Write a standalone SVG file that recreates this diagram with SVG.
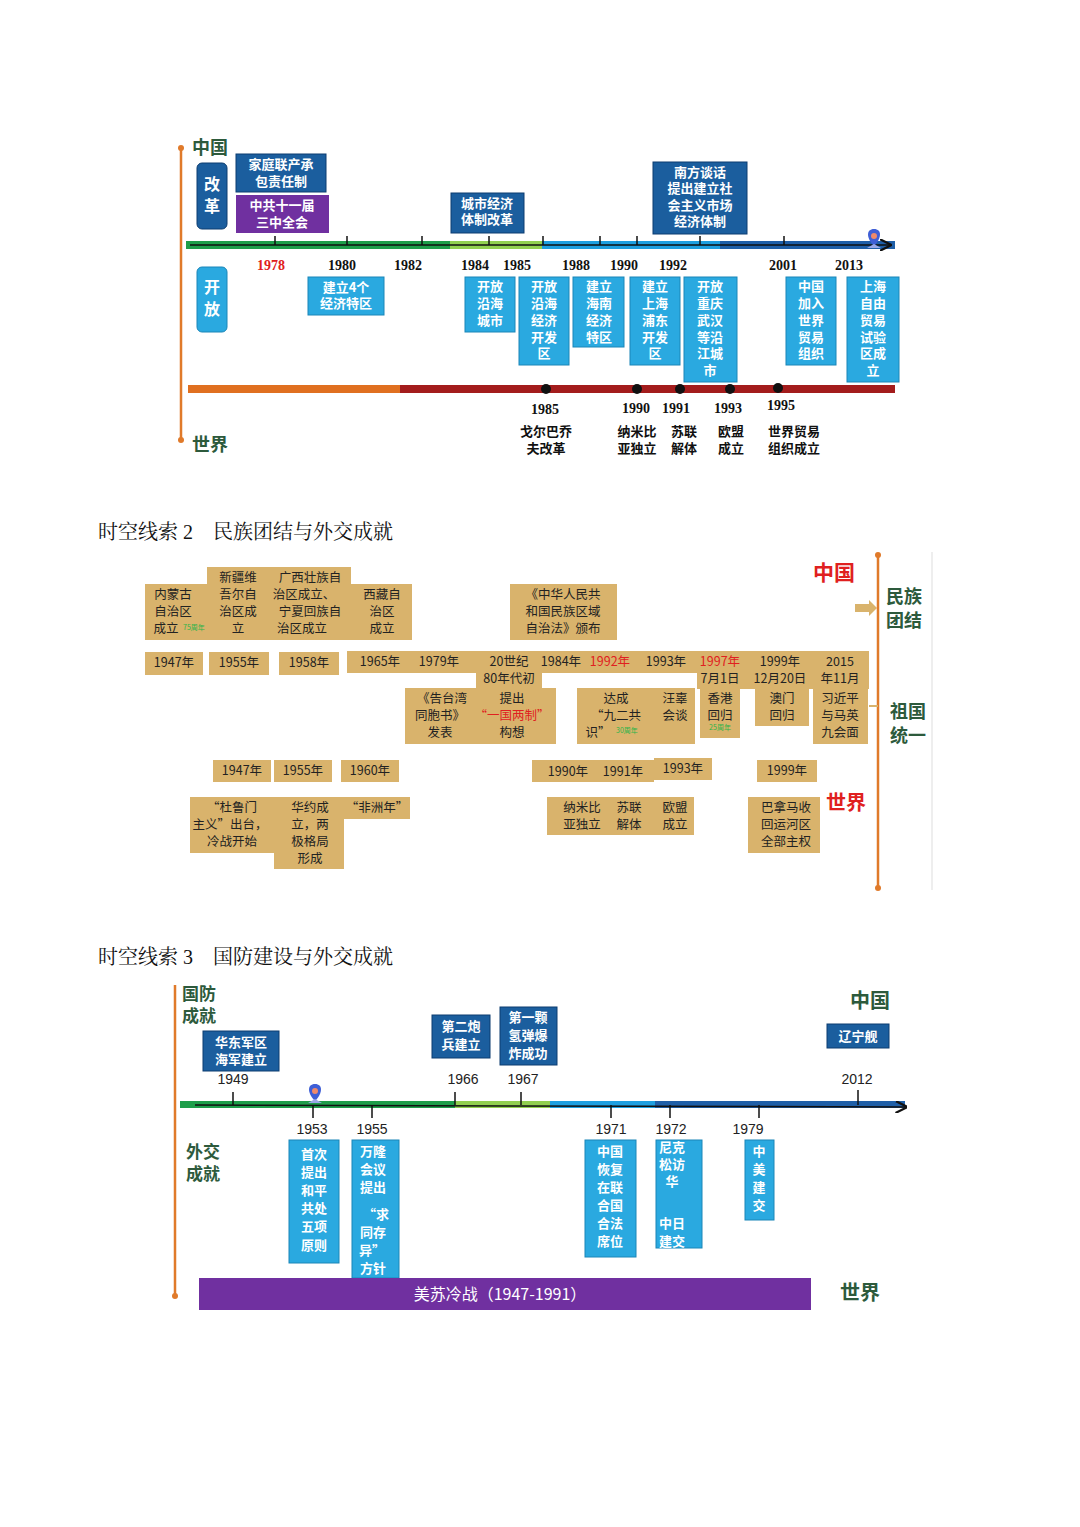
<svg xmlns="http://www.w3.org/2000/svg" width="1080" height="1527" viewBox="0 0 1080 1527">
<style>
text{font-family:"Noto Sans CJK SC","Liberation Sans",sans-serif}
.db{fill:#1b5e9e;stroke:#0d3d70;stroke-width:1}
.lb{fill:#2aa9e0;stroke:#1a86b8;stroke-width:1}
.pu{fill:#7030a0}
.tan{fill:#d9b36c}
.wt{fill:#fff;font-size:13px;font-weight:bold;text-anchor:middle}
.gr{fill:#2d5a3c;font-size:18px;font-weight:bold}
.yr{font-family:"Liberation Serif",serif;font-size:14px;font-weight:bold;text-anchor:middle;fill:#111}
.ev{font-size:13px;font-weight:bold;text-anchor:middle;fill:#111}
.tt{font-size:12.5px;text-anchor:middle;fill:#222}
.y3{font-family:"Liberation Sans",sans-serif;font-size:14px;text-anchor:middle;fill:#222}
.ttl{font-family:"Liberation Serif","Noto Serif CJK SC","Noto Sans CJK SC",serif;font-size:20px;fill:#111}
.tk{stroke:#111;stroke-width:1.5}
.or{stroke:#e07a2a;stroke-width:2.5}
</style>
<defs>
<marker id="ar" markerWidth="8" markerHeight="8" refX="7" refY="4" orient="auto"><path d="M0,0 L8,4 L0,8" fill="none" stroke="#111" stroke-width="1.5"/></marker>
<g id="pin"><path d="M0,8 C-8,0 -8,-9 0,-9 C8,-9 8,0 0,8 Z" fill="#3f5fd6"/><circle cx="0" cy="-2" r="3" fill="#f08a6a"/><path d="M-7,10 L0,6 L7,10 Z" fill="#9aa8e8"/></g>
</defs>

<!-- Section 1 -->
<g id="s1-axes">
<line class="or" x1="181" y1="148" x2="181" y2="440"/>
<circle cx="181" cy="148" r="3" fill="#e07a2a"/><circle cx="181" cy="440" r="3" fill="#e07a2a"/>
<text class="gr" x="192" y="154">中国</text>
<text class="gr" x="192" y="451">世界</text>
</g>
<g id="connectors">
<rect x="186" y="241" width="264" height="8" fill="#1e9e4a"/>
<rect x="450" y="241" width="92" height="8" fill="#92d050"/>
<rect x="542" y="241" width="178" height="8" fill="#1e9fe0"/>
<rect x="720" y="241" width="175" height="8" fill="#1f5fa8"/>
<line x1="190" y1="245" x2="890" y2="245" stroke="#111" stroke-width="1.5" marker-end="url(#ar)"/>
<g class="tk">
<line x1="275" y1="236" x2="275" y2="245"/><line x1="347" y1="236" x2="347" y2="245"/><line x1="422" y1="236" x2="422" y2="245"/><line x1="489" y1="236" x2="489" y2="245"/><line x1="543" y1="236" x2="543" y2="245"/><line x1="600" y1="236" x2="600" y2="245"/><line x1="637" y1="236" x2="637" y2="245"/><line x1="700" y1="236" x2="700" y2="245"/><line x1="784" y1="236" x2="784" y2="245"/>
</g>
<rect x="188" y="385" width="212" height="8" fill="#e07020"/>
<rect x="400" y="385" width="495" height="8" fill="#a31c1c"/>
<g fill="#111"><circle cx="546" cy="389" r="5"/><circle cx="637" cy="389" r="5"/><circle cx="680" cy="389" r="5"/><circle cx="730" cy="389" r="5"/><circle cx="778" cy="388" r="5"/></g>
<!-- S3 timeline -->
<rect x="180" y="1101" width="275" height="7" fill="#1e9e4a"/>
<rect x="455" y="1101" width="95" height="7" fill="#92d050"/>
<rect x="550" y="1101" width="105" height="7" fill="#1e9fe0"/>
<rect x="655" y="1101" width="250" height="7" fill="#1f5fa8"/>
<line x1="195" y1="1105" x2="906" y2="1107" stroke="#111" stroke-width="1.5" marker-end="url(#ar)"/>
<g class="tk">
<line x1="233" y1="1092" x2="233" y2="1105"/><line x1="455" y1="1092" x2="455" y2="1105"/><line x1="521" y1="1092" x2="521" y2="1105"/><line x1="858" y1="1090" x2="858" y2="1105"/>
<line x1="313" y1="1105" x2="313" y2="1118"/><line x1="372" y1="1105" x2="372" y2="1118"/><line x1="611" y1="1105" x2="611" y2="1118"/><line x1="670" y1="1105" x2="670" y2="1118"/><line x1="759" y1="1105" x2="759" y2="1118"/>
</g>
<!-- S2 arrows -->
<path d="M855,604 h14 v-4 l8,8 l-8,8 v-4 h-14 z" fill="#d9b36c"/>
</g>
<use href="#pin" x="874" y="238"/>
<g id="s1-years">
<text class="yr" x="271" y="270" style="fill:#e02020">1978</text>
<text class="yr" x="342" y="270">1980</text><text class="yr" x="408" y="270">1982</text><text class="yr" x="475" y="270">1984</text><text class="yr" x="517" y="270">1985</text><text class="yr" x="576" y="270">1988</text><text class="yr" x="624" y="270">1990</text><text class="yr" x="673" y="270">1992</text><text class="yr" x="783" y="270">2001</text><text class="yr" x="849" y="270">2013</text>
<text class="yr" x="545" y="414">1985</text><text class="yr" x="636" y="413">1990</text><text class="yr" x="676" y="413">1991</text><text class="yr" x="728" y="413">1993</text><text class="yr" x="781" y="410">1995</text>
</g>
<g id="s1-reform">
<rect class="db" x="197" y="163" width="30" height="66" rx="5"/><text class="wt" x="212" y="190" style="font-size:16px">改</text><text class="wt" x="212" y="212" style="font-size:16px">革</text>
<rect class="db" x="236" y="154" width="90" height="38"/><text class="wt" x="281" y="169">家庭联产承</text><text class="wt" x="281" y="186">包责任制</text>
<rect class="pu" x="236" y="195" width="93" height="38"/><text class="wt" x="282" y="210">中共十一届</text><text class="wt" x="282" y="227">三中全会</text>
<rect class="db" x="451" y="193" width="73" height="40"/><text class="wt" x="487" y="208">城市经济</text><text class="wt" x="487" y="224">体制改革</text>
<rect class="db" x="653" y="162" width="94" height="72"/><text class="wt" x="700" y="177">南方谈话</text><text class="wt" x="700" y="193">提出建立社</text><text class="wt" x="700" y="210">会主义市场</text><text class="wt" x="700" y="226">经济体制</text>
</g>
<g id="s1-open">
<rect class="lb" x="197" y="267" width="30" height="65" rx="5"/><text class="wt" x="212" y="293" style="font-size:16px">开</text><text class="wt" x="212" y="315" style="font-size:16px">放</text>
<rect class="lb" x="308" y="277" width="76" height="38"/><text class="wt" x="346" y="292">建立4个</text><text class="wt" x="346" y="308">经济特区</text>
<rect class="lb" x="465" y="277" width="50" height="55"/><text class="wt" x="490" y="291">开放</text><text class="wt" x="490" y="308">沿海</text><text class="wt" x="490" y="325">城市</text>
<rect class="lb" x="519" y="277" width="50" height="88"/><text class="wt" x="544" y="291">开放</text><text class="wt" x="544" y="308">沿海</text><text class="wt" x="544" y="325">经济</text><text class="wt" x="544" y="342">开发</text><text class="wt" x="544" y="358">区</text>
<rect class="lb" x="573" y="277" width="51" height="70"/><text class="wt" x="599" y="291">建立</text><text class="wt" x="599" y="308">海南</text><text class="wt" x="599" y="325">经济</text><text class="wt" x="599" y="342">特区</text>
<rect class="lb" x="630" y="277" width="50" height="88"/><text class="wt" x="655" y="291">建立</text><text class="wt" x="655" y="308">上海</text><text class="wt" x="655" y="325">浦东</text><text class="wt" x="655" y="342">开发</text><text class="wt" x="655" y="358">区</text>
<rect class="lb" x="684" y="277" width="53" height="105"/><text class="wt" x="710" y="291">开放</text><text class="wt" x="710" y="308">重庆</text><text class="wt" x="710" y="325">武汉</text><text class="wt" x="710" y="342">等沿</text><text class="wt" x="710" y="358">江城</text><text class="wt" x="710" y="375">市</text>
<rect class="lb" x="786" y="277" width="50" height="88"/><text class="wt" x="811" y="291">中国</text><text class="wt" x="811" y="308">加入</text><text class="wt" x="811" y="325">世界</text><text class="wt" x="811" y="342">贸易</text><text class="wt" x="811" y="358">组织</text>
<rect class="lb" x="847" y="277" width="52" height="105"/><text class="wt" x="873" y="291">上海</text><text class="wt" x="873" y="308">自由</text><text class="wt" x="873" y="325">贸易</text><text class="wt" x="873" y="342">试验</text><text class="wt" x="873" y="358">区成</text><text class="wt" x="873" y="375">立</text>
</g>
<g id="s1-world">
<text class="ev" x="546" y="436">戈尔巴乔</text><text class="ev" x="546" y="453">夫改革</text>
<text class="ev" x="637" y="436">纳米比</text><text class="ev" x="637" y="453">亚独立</text>
<text class="ev" x="684" y="436">苏联</text><text class="ev" x="684" y="453">解体</text>
<text class="ev" x="731" y="436">欧盟</text><text class="ev" x="731" y="453">成立</text>
<text class="ev" x="794" y="436">世界贸易</text><text class="ev" x="794" y="453">组织成立</text>
</g>

<!-- Section 2 -->
<text class="ttl" x="98" y="539">时空线索 2　民族团结与外交成就</text>
<g id="s2-axes">
<line class="or" x1="878" y1="555" x2="878" y2="888"/>
<circle cx="878" cy="555" r="3" fill="#e07a2a"/><circle cx="878" cy="888" r="3" fill="#e07a2a"/>
<line x1="932" y1="552" x2="932" y2="890" stroke="#ddd" stroke-width="1"/>
<text x="813" y="580" style="fill:#e02020;font-size:21px;font-weight:bold">中国</text>
<text class="gr" x="886" y="603">民族</text><text class="gr" x="886" y="627">团结</text>
<text class="gr" x="890" y="718">祖国</text><text class="gr" x="890" y="742">统一</text>
<text x="826" y="810" style="fill:#e02020;font-size:20px;font-weight:bold">世界</text>
<line x1="869" y1="706" x2="878" y2="706" stroke="#d9b36c" stroke-width="2"/>
</g>
<g id="s2-china">
<rect class="tan" x="145" y="584" width="66" height="56"/><text class="tt" x="173" y="599">内蒙古</text><text class="tt" x="173" y="616">自治区</text><text class="tt" x="166" y="633">成立</text><text x="183" y="630" style="fill:#2cb34a;font-size:7px">75周年</text>
<rect class="tan" x="207" y="567" width="62" height="73"/><text class="tt" x="238" y="582">新疆维</text><text class="tt" x="238" y="599">吾尔自</text><text class="tt" x="238" y="616">治区成</text><text class="tt" x="238" y="633">立</text>
<rect class="tan" x="268" y="567" width="83" height="73"/><text class="tt" x="310" y="582">广西壮族自</text><text class="tt" x="304" y="599">治区成立、</text><text class="tt" x="310" y="616">宁夏回族自</text><text class="tt" x="302" y="633">治区成立</text>
<rect class="tan" x="351" y="584" width="61" height="56"/><text class="tt" x="382" y="599">西藏自</text><text class="tt" x="382" y="616">治区</text><text class="tt" x="382" y="633">成立</text>
<rect class="tan" x="510" y="584" width="107" height="56"/><text class="tt" x="563" y="599">《中华人民共</text><text class="tt" x="563" y="616">和国民族区域</text><text class="tt" x="563" y="633">自治法》颁布</text>
<rect class="tan" x="145" y="652" width="58" height="23"/><text class="tt" x="174" y="667">1947年</text>
<rect class="tan" x="209" y="652" width="60" height="23"/><text class="tt" x="239" y="667">1955年</text>
<rect class="tan" x="279" y="652" width="60" height="23"/><text class="tt" x="309" y="667">1958年</text>
<rect class="tan" x="347" y="651" width="522" height="22"/>
<rect class="tan" x="476" y="672" width="66" height="17"/>
<rect class="tan" x="697" y="672" width="172" height="17"/>
<text class="tt" x="380" y="666">1965年</text><text class="tt" x="439" y="666">1979年</text><text class="tt" x="509" y="666">20世纪</text><text class="tt" x="509" y="683">80年代初</text><text class="tt" x="561" y="666">1984年</text><text class="tt" x="610" y="666" style="fill:#e02020">1992年</text><text class="tt" x="666" y="666">1993年</text><text class="tt" x="720" y="666" style="fill:#e02020">1997年</text><text class="tt" x="720" y="683">7月1日</text><text class="tt" x="780" y="666">1999年</text><text class="tt" x="780" y="683">12月20日</text><text class="tt" x="840" y="666">2015</text><text class="tt" x="840" y="683">年11月</text>
<rect class="tan" x="405" y="688" width="151" height="56"/><text class="tt" x="442" y="703">《告台湾</text><text class="tt" x="440" y="720">同胞书》</text><text class="tt" x="440" y="737">发表</text><text class="tt" x="512" y="703">提出</text><text class="tt" x="512" y="720" style="fill:#e02020">“一国两制”</text><text class="tt" x="512" y="737">构想</text>
<rect class="tan" x="577" y="688" width="118" height="56"/><text class="tt" x="616" y="703">达成</text><text class="tt" x="616" y="720">“九二共</text><text class="tt" x="598" y="737">识”</text><text x="616" y="733" style="fill:#2cb34a;font-size:7px">30周年</text><text class="tt" x="675" y="703">汪辜</text><text class="tt" x="675" y="720">会谈</text>
<rect class="tan" x="700" y="688" width="40" height="50"/><text class="tt" x="720" y="703">香港</text><text class="tt" x="720" y="720">回归</text><text x="720" y="730" style="fill:#2cb34a;font-size:7px;text-anchor:middle">25周年</text>
<rect class="tan" x="755" y="688" width="54" height="38"/><text class="tt" x="782" y="703">澳门</text><text class="tt" x="782" y="720">回归</text>
<rect class="tan" x="813" y="688" width="55" height="56"/><text class="tt" x="840" y="703">习近平</text><text class="tt" x="840" y="720">与马英</text><text class="tt" x="840" y="737">九会面</text>
</g>
<g id="s2-world">
<rect class="tan" x="213" y="760" width="58" height="22"/><text class="tt" x="242" y="775">1947年</text>
<rect class="tan" x="274" y="760" width="58" height="22"/><text class="tt" x="303" y="775">1955年</text>
<rect class="tan" x="341" y="760" width="58" height="22"/><text class="tt" x="370" y="775">1960年</text>
<rect class="tan" x="532" y="760" width="122" height="22"/><text class="tt" x="568" y="776">1990年</text><text class="tt" x="623" y="776">1991年</text>
<rect class="tan" x="654" y="758" width="58" height="22"/><text class="tt" x="683" y="773">1993年</text>
<rect class="tan" x="757" y="760" width="60" height="22"/><text class="tt" x="787" y="775">1999年</text>
<rect class="tan" x="190" y="797" width="84" height="56"/><text class="tt" x="232" y="812">“杜鲁门</text><text class="tt" x="230" y="829">主义”出台，</text><text class="tt" x="232" y="846">冷战开始</text>
<rect class="tan" x="274" y="797" width="70" height="72"/><text class="tt" x="310" y="812">华约成</text><text class="tt" x="310" y="829">立，两</text><text class="tt" x="310" y="846">极格局</text><text class="tt" x="310" y="863">形成</text>
<rect class="tan" x="344" y="797" width="66" height="22"/><text class="tt" x="377" y="812">“非洲年”</text>
<rect class="tan" x="547" y="797" width="147" height="38"/><text class="tt" x="582" y="812">纳米比</text><text class="tt" x="582" y="829">亚独立</text><text class="tt" x="629" y="812">苏联</text><text class="tt" x="629" y="829">解体</text><text class="tt" x="675" y="812">欧盟</text><text class="tt" x="675" y="829">成立</text>
<rect class="tan" x="748" y="797" width="72" height="56"/><text class="tt" x="786" y="812">巴拿马收</text><text class="tt" x="786" y="829">回运河区</text><text class="tt" x="786" y="846">全部主权</text>
</g>

<!-- Section 3 -->
<text class="ttl" x="98" y="964">时空线索 3　国防建设与外交成就</text>
<g id="s3-axes">
<line class="or" x1="175" y1="985" x2="175" y2="1296"/>
<circle cx="175" cy="1296" r="3" fill="#e07a2a"/>
<text class="gr" x="182" y="1000" style="font-size:17px">国防</text><text class="gr" x="182" y="1022" style="font-size:17px">成就</text>
<text class="gr" x="186" y="1158" style="font-size:17px">外交</text><text class="gr" x="186" y="1180" style="font-size:17px">成就</text>
<text class="gr" x="850" y="1008" style="font-size:20px">中国</text>
<text class="gr" x="840" y="1300" style="font-size:20px">世界</text>
</g>
<use href="#pin" x="315" y="1093"/>
<g id="s3-years">
<text class="y3" x="233" y="1084">1949</text><text class="y3" x="463" y="1084">1966</text><text class="y3" x="523" y="1084">1967</text><text class="y3" x="857" y="1084">2012</text>
<text class="y3" x="312" y="1134">1953</text><text class="y3" x="372" y="1134">1955</text><text class="y3" x="611" y="1134">1971</text><text class="y3" x="671" y="1134">1972</text><text class="y3" x="748" y="1134">1979</text>
</g>
<g id="s3-defense">
<rect class="db" x="203" y="1031" width="76" height="40"/><text class="wt" x="241" y="1047">华东军区</text><text class="wt" x="241" y="1064">海军建立</text>
<rect class="db" x="432" y="1015" width="58" height="43"/><text class="wt" x="461" y="1031">第二炮</text><text class="wt" x="461" y="1049">兵建立</text>
<rect class="db" x="500" y="1007" width="57" height="58"/><text class="wt" x="528" y="1022">第一颗</text><text class="wt" x="528" y="1040">氢弹爆</text><text class="wt" x="528" y="1058">炸成功</text>
<rect class="db" x="827" y="1024" width="62" height="24"/><text class="wt" x="858" y="1041">辽宁舰</text>
</g>
<g id="s3-diplomacy">
<rect class="lb" x="289" y="1140" width="50" height="123"/><text class="wt" x="314" y="1159">首次</text><text class="wt" x="314" y="1177">提出</text><text class="wt" x="314" y="1195">和平</text><text class="wt" x="314" y="1213">共处</text><text class="wt" x="314" y="1231">五项</text><text class="wt" x="314" y="1250">原则</text>
<rect class="lb" x="352" y="1140" width="47" height="138"/><text class="wt" x="373" y="1156">万隆</text><text class="wt" x="373" y="1174">会议</text><text class="wt" x="373" y="1192">提出</text><text class="wt" x="376" y="1219">“求</text><text class="wt" x="373" y="1237">同存</text><text class="wt" x="372" y="1255">异”</text><text class="wt" x="373" y="1273">方针</text>
<rect class="lb" x="585" y="1140" width="51" height="117"/><text class="wt" x="610" y="1156">中国</text><text class="wt" x="610" y="1174">恢复</text><text class="wt" x="610" y="1192">在联</text><text class="wt" x="610" y="1210">合国</text><text class="wt" x="610" y="1228">合法</text><text class="wt" x="610" y="1246">席位</text>
<rect class="lb" x="656" y="1140" width="46" height="108"/><text class="wt" x="672" y="1152">尼克</text><text class="wt" x="672" y="1169">松访</text><text class="wt" x="672" y="1186">华</text><text class="wt" x="672" y="1228">中日</text><text class="wt" x="672" y="1246">建交</text>
<rect class="lb" x="745" y="1140" width="29" height="80"/><text class="wt" x="759" y="1156">中</text><text class="wt" x="759" y="1174">美</text><text class="wt" x="759" y="1192">建</text><text class="wt" x="759" y="1210">交</text>
</g>
<g id="s3-world">
<rect class="pu" x="199" y="1278" width="612" height="32"/>
<text x="500" y="1300" style="fill:#fff;font-size:16px;text-anchor:middle">美苏冷战（1947-1991）</text>
</g>
</svg>
